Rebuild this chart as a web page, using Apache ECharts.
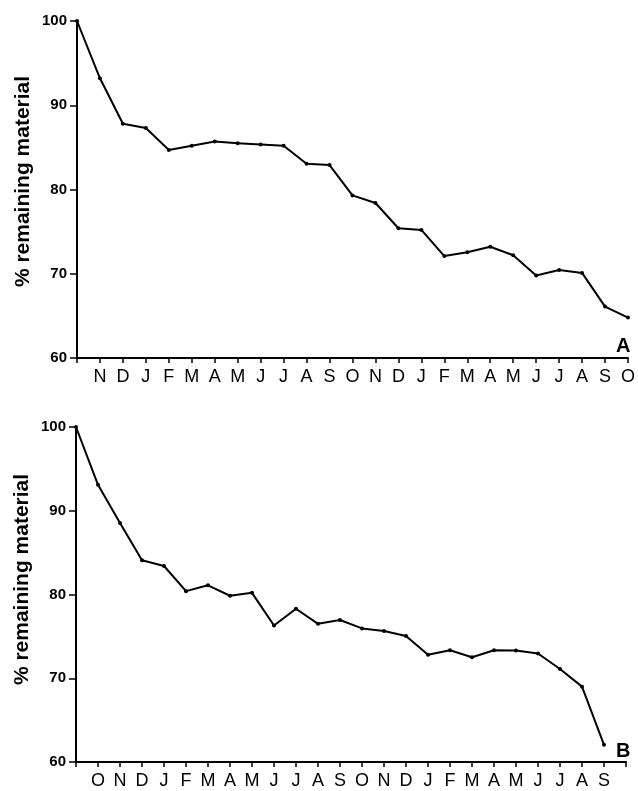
<!DOCTYPE html>
<html>
<head>
<meta charset="utf-8">
<script src="https://cdn.jsdelivr.net/npm/echarts@6/dist/echarts.min.js"></script>
<style>html,body{margin:0;padding:0;background:#fff;}#c{width:638px;height:791px;}</style>
</head>
<body>
<div id="c"></div>
<script>
var monthsA = ["", "N","D","J","F","M","A","M","J","J","A","S","O","N","D","J","F","M","A","M","J","J","A","S","O"];
var valuesA = [100, 93.2, 87.8, 87.3, 84.7, 85.2, 85.7, 85.5, 85.35, 85.2, 83.05, 82.9, 79.3, 78.4, 75.4, 75.2, 72.1, 72.55, 73.2, 72.2, 69.8, 70.45, 70.1, 66.1, 64.8];
var monthsB = ["", "O","N","D","J","F","M","A","M","J","J","A","S","O","N","D","J","F","M","A","M","J","J","A","S",""];
var valuesB = [100, 93.1, 88.55, 84.1, 83.4, 80.4, 81.1, 79.85, 80.2, 76.3, 78.3, 76.5, 76.95, 75.95, 75.65, 75.05, 72.8, 73.35, 72.5, 73.35, 73.3, 72.95, 71.1, 69.0, 62.05];
var yTicks = [60, 70, 80, 90, 100];
var yTitle = "% remaining material";
var panelLabels = ["A", "B"];

var chart = echarts.init(document.getElementById('c'), null, {renderer: 'canvas'});
var font = 'Liberation Sans';
function xAxis(idx, cats) {
  return {
    type: 'category', gridIndex: idx, data: cats, boundaryGap: false,
    axisLine: {lineStyle: {color: '#000', width: 2}},
    axisTick: {show: true, interval: 0, length: 5, lineStyle: {color: '#000', width: 1.5}},
    axisLabel: {interval: 0, color: '#000', fontSize: 18, fontFamily: font, margin: 10},
    splitLine: {show: false}
  };
}
function yAxis(idx, shift) {
  return {
    type: 'value', gridIndex: idx, min: yTicks[0], max: yTicks[yTicks.length - 1], interval: 10,
    name: yTitle, nameLocation: 'middle', nameGap: 43, nameRotate: 90, nameMoveOverlap: false,
    nameTextStyle: {color: '#000', fontSize: 21, fontFamily: font, fontWeight: 'bold', padding: [0, 0, 0, shift]},
    axisLine: {show: true, lineStyle: {color: '#000', width: 2}},
    axisTick: {show: true, length: 7, lineStyle: {color: '#000', width: 1.5}},
    axisLabel: {color: '#000', fontSize: 15, fontWeight: 'bold', fontFamily: font, margin: 10},
    splitLine: {show: false}
  };
}
function series(idx, vals) {
  return {
    type: 'line', xAxisIndex: idx, yAxisIndex: idx, data: vals,
    symbol: 'circle', symbolSize: 4, showSymbol: true,
    lineStyle: {color: '#000', width: 2}, itemStyle: {color: '#000'},
    animation: false
  };
}
chart.setOption({
  backgroundColor: '#fff',
  animation: false,
  title: [
    {text: panelLabels[0], left: 611, top: 331, textStyle: {fontSize: 20, fontWeight: 'bold', color: '#000', fontFamily: font}},
    {text: panelLabels[1], left: 611, top: 736, textStyle: {fontSize: 20, fontWeight: 'bold', color: '#000', fontFamily: font}}
  ],
  grid: [
    {left: 77, right: 10, top: 21, bottom: 433},
    {left: 76, right: 12, top: 427, bottom: 29}
  ],
  xAxis: [xAxis(0, monthsA), xAxis(1, monthsB)],
  yAxis: [yAxis(0, 16), yAxis(1, 30)],
  series: [series(0, valuesA), series(1, valuesB)]
});
</script>
</body>
</html>
